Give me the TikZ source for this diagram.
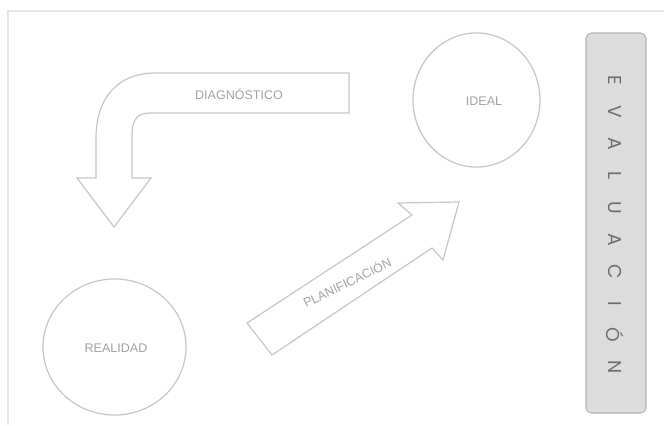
\documentclass[tikz,border=0pt]{standalone}
\usepackage{fontspec}
\setmainfont{Liberation Sans}
\newfontfamily\evfont{Poppins}
\usetikzlibrary{shapes.geometric}
\definecolor{framec}{HTML}{E6E6E6}
\definecolor{shapec}{HTML}{C6C6C6}
\definecolor{txtc}{HTML}{A2A2A2}
\definecolor{boxfill}{HTML}{DCDCDC}
\definecolor{boxline}{HTML}{B4B4B4}
\definecolor{evtxt}{HTML}{6E6E6E}
\begin{document}
\begin{tikzpicture}[x=0.75pt,y=-0.75pt,
  arrowline/.style={draw=shapec, line width=0.9pt, line join=miter},
  lbl/.style={text=txtc, font=\fontsize{9.4}{11}\selectfont, inner sep=0pt},
  bubble/.style={ellipse, draw=shapec, line width=0.9pt, inner sep=0pt},
  evalbox/.style={draw=boxline, fill=boxfill, rounded corners=4pt, line width=0.8pt, minimum width=45pt, minimum height=285pt},
  evl/.style={text=evtxt, font=\evfont\fontsize{14}{16}\selectfont, rotate=-90, inner sep=0pt}]
\useasboundingbox (0,0) rectangle (664,425);
\draw[framec, line width=0.8pt] (8,425) -- (8,11) -- (664,11);
% Diagnostico arrow
\draw[arrowline] (349,73) -- (155,73) .. controls (118,73) and (96,98) .. (96,138)
  -- (96,178) -- (77,178) -- (114,227) -- (151,178) -- (132,178) -- (132,135)
  .. controls (132,120) and (137,113) .. (150,113) -- (349,113) -- cycle;
% Planificacion arrow
\draw[arrowline] (247,323) -- (412,215) -- (398,203) -- (459,202) -- (443,260)
  -- (432,248) -- (272,355) -- cycle;
% circles
\node[bubble, minimum width=107.25pt, minimum height=102pt] (real) at (114.5,347) {};
\node[bubble, minimum width=95.25pt, minimum height=100.5pt] (ideal) at (476.5,100) {};
% labels
\node[lbl] (diag) at (239,94) {DIAGNÓSTICO};
\node[lbl, rotate=26] (plan) at (347,282) {PLANIFICACIÓN};
\node[lbl] (realt) at (116,348) {REALIDAD};
\node[lbl] (idealt) at (484,101) {IDEAL};
% evaluation box
\node[evalbox] (eval) at (616,223) {};
\foreach \l [count=\i from 0] in {E,V,A,L,U,A,C,I,Ó,N}
  \node[evl] (ev\i) at (615,80+31.9*\i) {\l};
\end{tikzpicture}
\end{document}
